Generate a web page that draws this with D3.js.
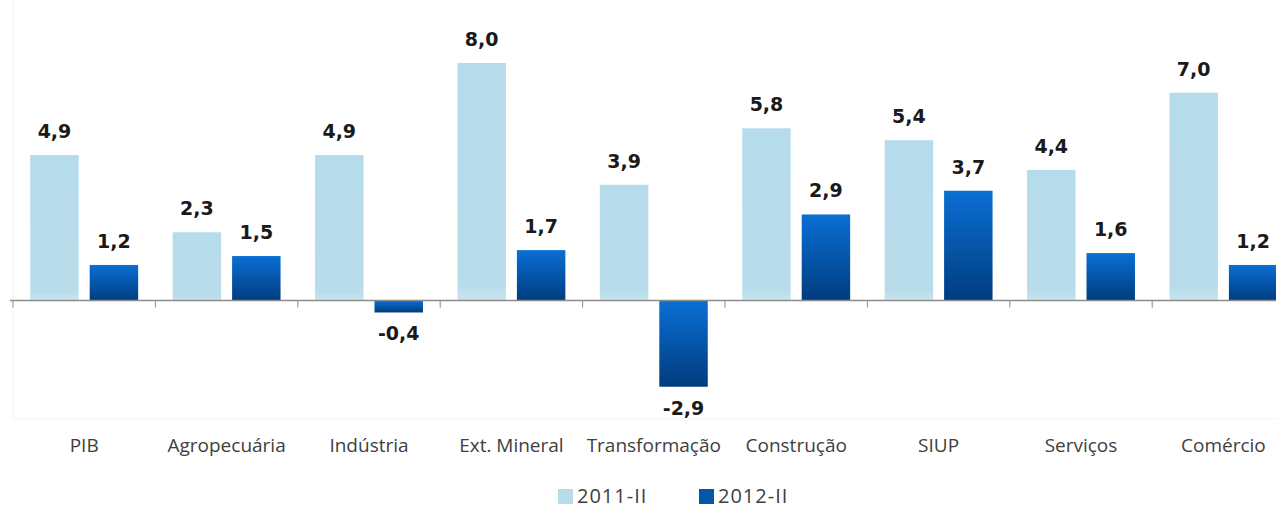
<!DOCTYPE html>
<html>
<head>
<meta charset="utf-8">
<script src="https://cdn.jsdelivr.net/npm/d3@7"></script>
<style>
  body { margin: 0; background: #fff; }
  text { font-family: "Open Sans", sans-serif; }
</style>
</head>
<body>
<svg id="chart"></svg>
<script>
// dados
const categories = ["PIB", "Agropecuária", "Indústria", "Ext. Mineral", "Transformação", "Construção", "SIUP", "Serviços", "Comércio"];
const seriesNames = ["2011-II", "2012-II"];
const values2011 = [4.9, 2.3, 4.9, 8.0, 3.9, 5.8, 5.4, 4.4, 7.0];
const values2012 = [1.2, 1.5, -0.4, 1.7, -2.9, 2.9, 3.7, 1.6, 1.2];

const width = 1276, height = 509;
const svg = d3.select("#chart").attr("width", width).attr("height", height);

const defs = svg.append("defs");
const grad = defs.append("linearGradient").attr("id", "dark").attr("x1", 0).attr("y1", 0).attr("x2", 0).attr("y2", 1);
grad.append("stop").attr("offset", "0%").attr("stop-color", "#0a6fd4");
grad.append("stop").attr("offset", "100%").attr("stop-color", "#003c7e");
const gradL = defs.append("linearGradient").attr("id", "light").attr("x1", 0).attr("y1", 0).attr("x2", 0).attr("y2", 1);
gradL.append("stop").attr("offset", "0%").attr("stop-color", "#b6dbea");
gradL.append("stop").attr("offset", "94%").attr("stop-color", "#b9dcea");
gradL.append("stop").attr("offset", "100%").attr("stop-color", "#cae6ee");

// escalas
const x0 = 13, step = 142.4;
const x = d3.scaleBand().domain(categories).range([x0, x0 + step * categories.length]);
const xs = d3.scaleBand().domain(seriesNames).range([0, x.bandwidth()]).paddingInner(0.185).paddingOuter(0.29);
const y = d3.scaleLinear().domain([-3, 8]).range([389.7, 63]);
const fmt = v => d3.format(".1f")(v).replace(".", ",").replace("\u2212", "-");

const data = categories.map((c, i) => ({ cat: c, vals: [values2011[i], values2012[i]] }));

// moldura suave
svg.append("line").attr("x1", x0).attr("x2", x0).attr("y1", 0).attr("y2", 419).attr("stroke", "#f3f3f3");
svg.append("line").attr("x1", x0).attr("x2", width).attr("y1", 419).attr("y2", 419).attr("stroke", "#f3f3f3");

const g = svg.append("g");

const groups = g.selectAll("g.cat").data(data).enter().append("g")
  .attr("transform", d => `translate(${x(d.cat)},0)`);

groups.selectAll("rect").data(d => d.vals.map((v, k) => ({ v, k }))).enter().append("rect")
  .attr("x", d => xs(seriesNames[d.k]))
  .attr("width", xs.bandwidth())
  .attr("y", d => y(Math.max(0, d.v)))
  .attr("height", d => Math.abs(y(d.v) - y(0)))
  .attr("fill", d => d.k === 0 ? "url(#light)" : "url(#dark)");

groups.selectAll("text.val").data(d => d.vals.map((v, k) => ({ v, k }))).enter().append("text")
  .attr("class", "val")
  .attr("x", d => xs(seriesNames[d.k]) + xs.bandwidth() / 2)
  .attr("y", d => d.v >= 0 ? y(d.v) - 17 : y(d.v) + 28)
  .attr("text-anchor", "middle")
  .style("font-family", "'DejaVu Sans', sans-serif")
  .style("font-size", "19px")
  .style("font-weight", "bold")
  .style("fill", "#1a1a1a")
  .text(d => fmt(d.v));

// eixo
g.append("line").attr("x1", 10).attr("x2", width).attr("y1", y(0)).attr("y2", y(0))
  .attr("stroke", "#8c8c8c").attr("stroke-width", 1.5);
g.selectAll("line.tick").data(d3.range(categories.length + 1)).enter().append("line")
  .attr("x1", i => x0 + x.step() * i).attr("x2", i => x0 + x.step() * i)
  .attr("y1", y(0)).attr("y2", y(0) + 7)
  .attr("stroke", "#8c8c8c").attr("stroke-width", 1);

g.selectAll("text.cat").data(categories).enter().append("text")
  .attr("class", "cat")
  .attr("x", d => x(d) + x.bandwidth() / 2)
  .attr("y", 452)
  .attr("text-anchor", "middle")
  .style("font-size", "19px")
  .style("fill", "#404040")
  .text(d => d);

// legenda
const legend = svg.append("g").attr("transform", "translate(558,489)");
const legX = [0, 141];
seriesNames.forEach((s, k) => {
  const lg = legend.append("g").attr("transform", `translate(${legX[k]},0)`);
  lg.append("rect").attr("x", 0).attr("y", 0).attr("width", 15).attr("height", 15)
    .attr("fill", k === 0 ? "#b6dbea" : "#0555a8");
  lg.append("text").attr("x", 19).attr("y", 14)
    .style("font-size", "20px").style("letter-spacing", "1px").style("fill", "#404040").text(s);
});
</script>
</body>
</html>
